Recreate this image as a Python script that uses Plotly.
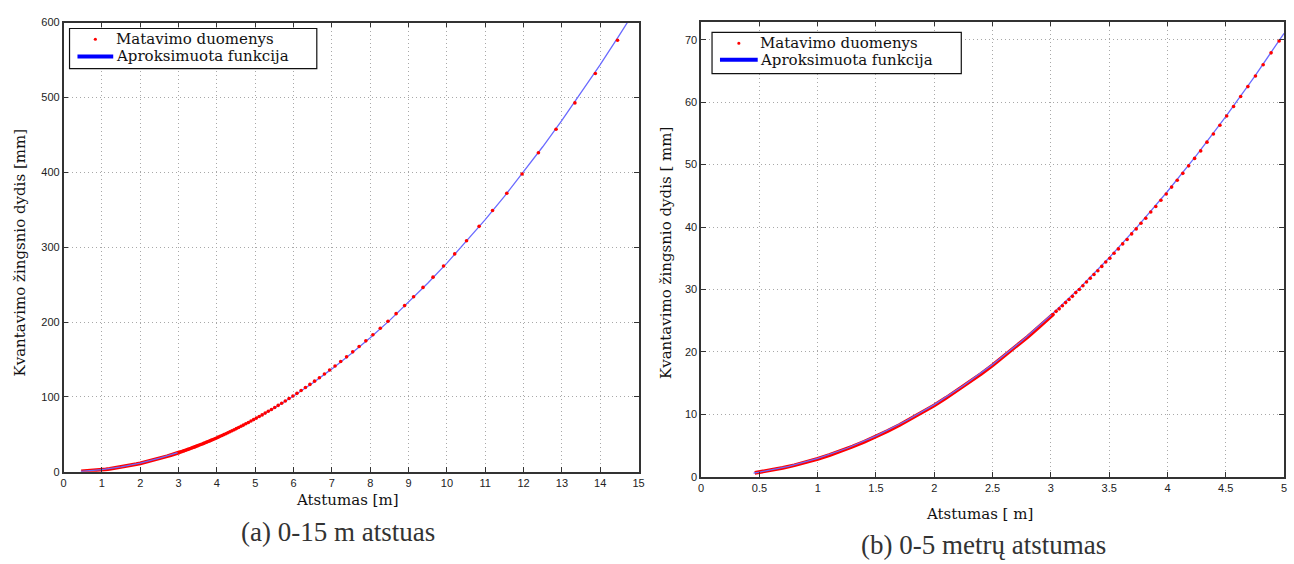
import plotly.graph_objects as go

# ---------------- data ----------------
# measured quantisation steps (discrete, visibly separate points), distance [m]
meas_x = [14.451, 13.873, 13.340, 12.847, 12.388, 11.962, 11.563, 11.191, 10.841, 10.513,
          10.204, 9.913, 9.638, 9.377, 9.131, 8.897, 8.675, 8.463, 8.262, 8.070,
          7.886, 7.711, 7.544, 7.383, 7.230, 7.082, 6.941, 6.805, 6.674, 6.548,
          6.427, 6.310, 6.197, 6.089, 5.984, 5.882, 5.784, 5.690, 5.598, 5.509,
          5.423, 5.340, 5.259, 5.180, 5.104, 5.030, 4.958, 4.889, 4.821, 4.755,
          4.690, 4.628, 4.567, 4.508, 4.450, 4.394, 4.339, 4.285, 4.233, 4.182,
          4.132, 4.084, 4.036, 3.990, 3.944, 3.900, 3.857, 3.814, 3.773, 3.732,
          3.693, 3.654, 3.616, 3.579, 3.542, 3.506, 3.471, 3.437, 3.403, 3.370,
          3.338, 3.306, 3.275, 3.244, 3.214, 3.185, 3.156, 3.127, 3.099, 3.072,
          3.045, 3.019]
# quantisation step [mm]
meas_y = [576.4, 532.1, 492.8, 457.7, 426.2, 397.9, 372.2, 349.0, 327.9, 308.7,
          291.1, 274.9, 260.1, 246.4, 233.8, 222.1, 211.3, 201.2, 191.9, 183.2,
          175.0, 167.4, 160.3, 153.6, 147.4, 141.5, 136.0, 130.8, 125.8, 121.2,
          116.8, 112.6, 108.6, 104.9, 101.4, 98.0, 94.7, 91.7, 88.8, 86.0,
          83.4, 80.9, 78.5, 76.1, 73.9, 71.8, 69.8, 67.9, 66.0, 64.2,
          62.5, 60.9, 59.3, 57.8, 56.3, 54.9, 53.6, 52.2, 51.0, 49.8,
          48.6, 47.5, 46.4, 45.3, 44.3, 43.3, 42.4, 41.4, 40.6, 39.7,
          38.9, 38.0, 37.3, 36.5, 35.8, 35.0, 34.4, 33.7, 33.0, 32.4,
          31.8, 31.2, 30.6, 30.0, 29.5, 28.9, 28.4, 27.9, 27.4, 26.9,
          26.5, 26.0]

# dense measured region (points merge into a continuous band)
dense_x = [0.46, 0.5, 0.6, 0.7, 0.8, 0.9, 1.0, 1.1, 1.2, 1.3, 1.4, 1.5, 1.6, 1.7, 1.8,
           1.9, 2.0, 2.1, 2.2, 2.3, 2.4, 2.5, 2.6, 2.7, 2.8, 2.9, 3.0, 3.019]
dense_y = [0.61, 0.72, 1.04, 1.41, 1.84, 2.33, 2.87, 3.47, 4.13, 4.85, 5.62, 6.45, 7.34, 8.28, 9.28,
           10.34, 11.45, 12.62, 13.85, 15.13, 16.47, 17.87, 19.32, 20.83, 22.40, 24.02, 25.70, 26.0]

# approximated function (fit)
fit_x_a = [0.45, 1.0, 1.5, 2.0, 2.5, 3.0, 3.5, 4.0, 4.5, 5.0, 5.5, 6.0, 6.5, 7.0, 7.5, 8.0,
           8.5, 9.0, 9.5, 10.0, 10.5, 11.0, 11.5, 12.0, 12.5, 13.0, 13.5, 14.0, 14.5, 15.0]
fit_y_a = [0.67, 3.11, 6.77, 11.81, 18.21, 25.99, 35.13, 45.65, 57.54, 70.80, 85.43, 101.43,
           118.80, 137.55, 157.66, 179.15, 202.01, 226.23, 251.83, 278.80, 307.15, 336.85,
           367.94, 400.39, 434.21, 469.41, 505.98, 543.91, 583.23, 623.90]
fit_x_b = [0.45, 0.5, 0.75, 1.0, 1.25, 1.5, 1.75, 2.0, 2.25, 2.5, 2.75, 3.0, 3.25, 3.5,
           3.75, 4.0, 4.25, 4.5, 4.75, 5.0]
fit_y_b = [0.60, 0.75, 1.67, 2.95, 4.57, 6.55, 8.89, 11.56, 14.61, 18.00, 21.76, 25.86,
           30.30, 35.08, 40.22, 45.70, 51.52, 57.68, 64.18, 71.02]

x_ticks_a = list(range(0, 16))
y_ticks_a = [0, 100, 200, 300, 400, 500, 600]
x_ticks_b = [0, 0.5, 1, 1.5, 2, 2.5, 3, 3.5, 4, 4.5, 5]
y_ticks_b = [0, 10, 20, 30, 40, 50, 60, 70]

LEG_MEAS = "Matavimo duomenys"
LEG_FIT = "Aproksimuota funkcija"
XT_A = "Atstumas [m]"
XT_B = "Atstumas [ m]"
YT_A = "Kvantavimo žingsnio dydis [mm]"
YT_B = "Kvantavimo žingsnio dydis [ mm]"
CAP_A = "(a) 0-15 m atstuas"
CAP_B = "(b) 0-5 metrų atstumas"

# ---------------- figure ----------------
RED = "#ff0000"
BLUE_LINE = "#6a6aff"
BLUE = "#0000ff"
W, H = 1294, 564

fig = go.Figure()


def px_x(v):
    return v / W


def px_y(v):
    return 1 - v / H


def add_panel(xa, ya, fx, fy, xmax):
    mx = [x for x in meas_x if x <= xmax]
    my = [y for x, y in zip(meas_x, meas_y) if x <= xmax]
    fig.add_trace(go.Scatter(x=dense_x, y=dense_y, mode="lines", name=LEG_MEAS,
                             line=dict(color=RED, width=3.8), showlegend=False,
                             xaxis=xa, yaxis=ya, hoverinfo="skip"))
    fig.add_trace(go.Scatter(x=fx, y=fy, mode="lines", name=LEG_FIT,
                             line=dict(color=BLUE_LINE, width=1.3), showlegend=False,
                             xaxis=xa, yaxis=ya))
    fig.add_trace(go.Scatter(x=mx, y=my, mode="markers", name=LEG_MEAS,
                             marker=dict(color=RED, size=3.6, line=dict(width=0)),
                             showlegend=False, xaxis=xa, yaxis=ya))


add_panel("x", "y", fit_x_a, fit_y_a, 15)
add_panel("x2", "y2", fit_x_b, fit_y_b, 5)

tickfont = dict(family="Liberation Sans, Arial, sans-serif", size=11, color="#222222")
axis_common = dict(showline=True, linecolor="#333333", linewidth=1.5, mirror="allticks",
                   ticks="inside", ticklen=5, tickcolor="#333333", tickwidth=1,
                   showgrid=True, gridcolor="#a8a8a8", gridwidth=1, griddash="1px,3px",
                   zeroline=False, tickfont=tickfont)

fig.update_layout(
    width=W, height=H,
    margin=dict(l=0, r=0, t=0, b=0),
    paper_bgcolor="white", plot_bgcolor="white",
    showlegend=False,
    xaxis=dict(domain=[px_x(61), px_x(640)], range=[0, 15], tickvals=x_ticks_a,
               anchor="y", **axis_common),
    yaxis=dict(domain=[px_y(476), px_y(17)], range=[0, 600], tickvals=y_ticks_a,
               anchor="x", **axis_common),
    xaxis2=dict(domain=[px_x(703), px_x(1290)], range=[0, 5], tickvals=x_ticks_b,
                ticktext=[str(v) for v in x_ticks_b], anchor="y2", **axis_common),
    yaxis2=dict(domain=[px_y(481), px_y(16)], range=[0, 72.9], tickvals=y_ticks_b,
                anchor="x2", **axis_common),
)

# ---- legends (drawn as boxes with text) ----
leg_font = dict(family="DejaVu Serif, serif", size=15, color="#111111")


def add_legend(bx0, by0, bx1, by1, dot_x, line_x0, line_x1, text_x, y1, y2):
    fig.add_shape(type="rect", xref="paper", yref="paper",
                  x0=px_x(bx0), x1=px_x(bx1), y0=px_y(by1), y1=px_y(by0),
                  line=dict(color="#111111", width=1.2), fillcolor="white", layer="above")
    fig.add_shape(type="circle", xref="paper", yref="paper",
                  x0=px_x(dot_x - 1.6), x1=px_x(dot_x + 1.6),
                  y0=px_y(y1 + 1.6), y1=px_y(y1 - 1.6),
                  line=dict(width=0), fillcolor=RED, layer="above")
    fig.add_shape(type="line", xref="paper", yref="paper",
                  x0=px_x(line_x0), x1=px_x(line_x1), y0=px_y(y2), y1=px_y(y2),
                  line=dict(color=BLUE, width=4), layer="above")
    fig.add_annotation(xref="paper", yref="paper", showarrow=False, text=LEG_MEAS,
                       x=px_x(text_x), y=px_y(y1), xanchor="left", yanchor="middle",
                       font=leg_font)
    fig.add_annotation(xref="paper", yref="paper", showarrow=False, text=LEG_FIT,
                       x=px_x(text_x), y=px_y(y2), xanchor="left", yanchor="middle",
                       font=leg_font)


add_legend(67, 23, 316, 64, 93, 75, 111, 112, 34, 51.5)
add_legend(714, 27, 965, 69, 741, 722, 760, 760, 38, 55)

title_font = dict(family="DejaVu Serif, serif", size=15, color="#111111")
cap_font = dict(family="Liberation Serif, serif", size=27, color="#333333")
ann = [
    dict(text=XT_A, x=px_x(347), y=px_y(505), font=title_font),
    dict(text=XT_B, x=px_x(983), y=px_y(519), font=title_font),
    dict(text=YT_A, x=px_x(17), y=px_y(252), font=title_font, textangle=-90),
    dict(text=YT_B, x=px_x(667), y=px_y(252), font=title_font, textangle=-90),
    dict(text=CAP_A, x=px_x(337), y=px_y(537), font=cap_font),
    dict(text=CAP_B, x=px_x(987), y=px_y(551), font=cap_font),
]
for a in ann:
    fig.add_annotation(xref="paper", yref="paper", showarrow=False,
                       xanchor="center", yanchor="middle", **a)

fig.write_html("out.html")
